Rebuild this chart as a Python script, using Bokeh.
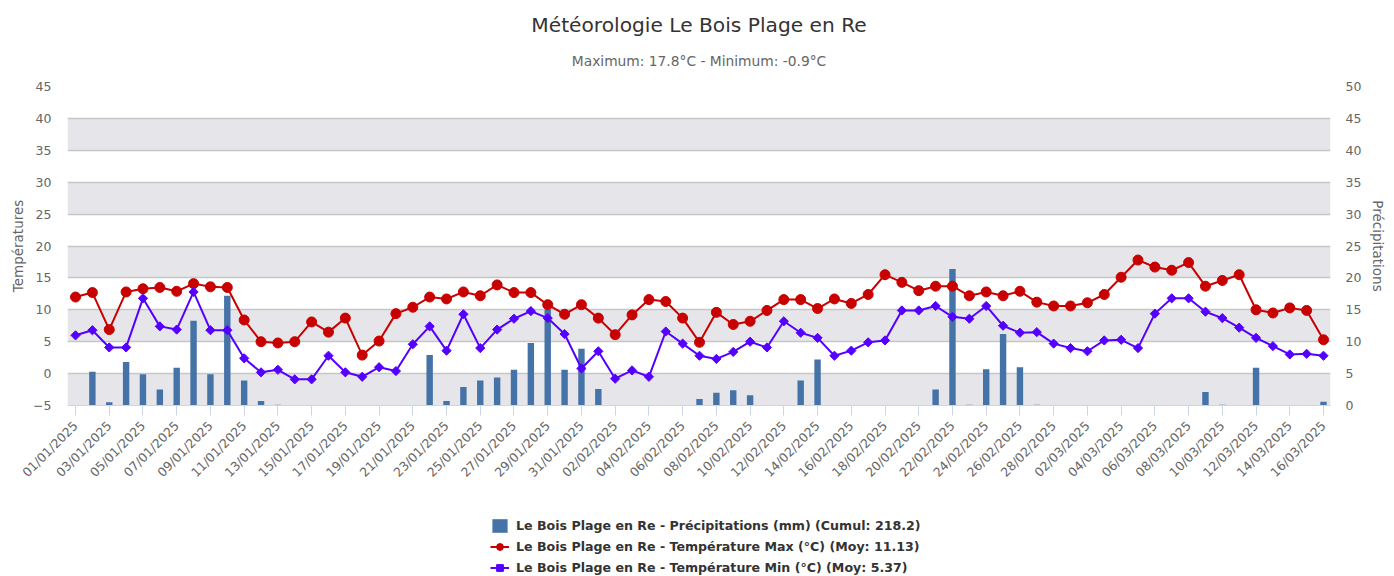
import math
import datetime
from bokeh.plotting import figure
from bokeh.layouts import column
from bokeh.models import (Range1d, LinearAxis, FixedTicker, BoxAnnotation, Legend,
                          LegendItem, Title, ColumnDataSource)
from bokeh.embed import file_html
from bokeh.resources import INLINE

# ---------------- data ----------------
START = datetime.date(2025, 1, 1)
N_DAYS = 75
dates = [(START + datetime.timedelta(days=i)).strftime("%d/%m/%Y") for i in range(N_DAYS)]

precip = [0, 5.3, 0.5, 6.8, 4.9, 2.5, 5.9, 13.3, 4.9, 17.2,
          3.9, 0.7, 0.1, 0, 0, 0, 0, 0, 0, 0,
          0, 7.9, 0.7, 2.9, 3.9, 4.4, 5.6, 9.8, 15.0, 5.6,
          8.9, 2.6, 0, 0, 0, 0, 0, 1.0, 2.0, 2.4,
          1.6, 0, 0, 3.9, 7.2, 0, 0, 0, 0, 0,
          0, 2.5, 21.4, 0.1, 5.7, 11.2, 6.0, 0.1, 0, 0,
          0, 0, 0, 0, 0, 0, 0, 2.1, 0.1, 0,
          5.9, 0, 0, 0, 0.6]

tmax = [12.0, 12.7, 6.9, 12.8, 13.3, 13.5, 12.9, 14.1, 13.6, 13.5,
        8.4, 5.0, 4.8, 5.0, 8.1, 6.5, 8.7, 2.9, 5.1, 9.4,
        10.4, 12.0, 11.7, 12.8, 12.2, 13.9, 12.7, 12.7, 10.8, 9.3,
        10.8, 8.7, 6.1, 9.2, 11.6, 11.3, 8.7, 4.9, 9.6, 7.7,
        8.2, 9.9, 11.6, 11.6, 10.2, 11.7, 11.0, 12.4, 15.5, 14.3,
        13.0, 13.7, 13.7, 12.2, 12.8, 12.2, 12.9, 11.2, 10.6, 10.6,
        11.1, 12.4, 15.1, 17.8, 16.7, 16.2, 17.4, 13.7, 14.6, 15.5,
        10.0, 9.5, 10.3, 9.9, 5.3]

tmin = [6.0, 6.8, 4.1, 4.1, 11.8, 7.4, 6.9, 12.8, 6.8, 6.8,
        2.4, 0.2, 0.6, -0.9, -0.9, 2.8, 0.2, -0.5, 1.0, 0.4,
        4.6, 7.4, 3.6, 9.3, 4.0, 6.9, 8.6, 9.8, 8.7, 6.2,
        0.8, 3.5, -0.8, 0.5, -0.5, 6.6, 4.7, 2.8, 2.3, 3.4,
        5.0, 4.1, 8.2, 6.4, 5.6, 2.8, 3.6, 4.9, 5.2, 9.9,
        9.9, 10.6, 8.9, 8.6, 10.6, 7.5, 6.4, 6.5, 4.7, 4.0,
        3.5, 5.2, 5.3, 4.0, 9.4, 11.8, 11.8, 9.7, 8.7, 7.2,
        5.6, 4.3, 3.0, 3.1, 2.8]

title_text = "Météorologie Le Bois Plage en Re"
subtitle_text = "Maximum: 17.8°C - Minimum: -0.9°C"
left_title = "Températures"
right_title = "Précipitations"
legend_labels = [
    "Le Bois Plage en Re - Précipitations (mm) (Cumul: 218.2)",
    "Le Bois Plage en Re - Température Max (°C) (Moy: 11.13)",
    "Le Bois Plage en Re - Température Min (°C) (Moy: 5.37)",
]
temp_ticks = list(range(-5, 50, 5))
precip_ticks = list(range(0, 55, 5))
band_starts = [-5, 5, 15, 25, 35]

# ---------------- style ----------------
FONT = "DejaVu Sans"
W = 1394
H1, H2 = 505, 71
ML, MR, MT, MB = 67, 64, 86, 100
BAR_COLOR, MAX_COLOR, MIN_COLOR = "#4572a7", "#c80000", "#5500ff"

idx = list(range(N_DAYS))
src = ColumnDataSource(dict(x=idx, date=dates, precip=precip, tmax=tmax, tmin=tmin))

p = figure(width=W, height=H1,
           x_range=Range1d(-0.475, N_DAYS - 1 + 0.415), y_range=Range1d(-5, 45),
           output_backend="svg", toolbar_location=None,
           min_border_left=ML, min_border_right=MR, min_border_top=MT, min_border_bottom=MB,
           outline_line_color=None, background_fill_color="white", border_fill_color="white")
p.title.visible = False
p.extra_y_ranges = {"precip": Range1d(0, 50)}

for lo in band_starts:
    p.add_layout(BoxAnnotation(bottom=lo, top=lo + 5, fill_color="#e6e6ea", fill_alpha=1.0,
                               line_color=None, level="image"))

p.xgrid.visible = False
p.ygrid.ticker = FixedTicker(ticks=temp_ticks)
p.ygrid.grid_line_color = "#c6c6c6"
p.ygrid.grid_line_width = 1.5

p.vbar(x="x", top="precip", bottom=0, width=0.38, source=src, y_range_name="precip",
       fill_color=BAR_COLOR, line_color=None)
p.line("x", "tmax", source=src, color=MAX_COLOR, line_width=2)
p.scatter("x", "tmax", source=src, marker="circle", size=10, color=MAX_COLOR)
p.line("x", "tmin", source=src, color=MIN_COLOR, line_width=2)
p.scatter("x", "tmin", source=src, marker="square", angle=math.pi / 4, size=6.5, color=MIN_COLOR)

# x axis
xa = p.xaxis[0]
xa.ticker = FixedTicker(ticks=idx[::2])
xa.major_label_overrides = {i: dates[i] for i in idx[::2]}
xa.major_label_orientation = math.pi / 4
xa.axis_line_color = "#ccd6eb"
xa.major_tick_line_color = "#ccd6eb"
xa.major_tick_out = 10
xa.major_tick_in = 0
xa.minor_tick_line_color = None
xa.major_label_text_font = FONT
xa.major_label_text_font_size = "12.5px"
xa.major_label_text_color = "#666666"
xa.major_label_standoff = 8

# left axis
ya = p.yaxis[0]
ya.ticker = FixedTicker(ticks=temp_ticks)
ya.major_label_overrides = {-5: "−5"}
ya.axis_line_color = None
ya.major_tick_line_color = None
ya.major_tick_out = 0
ya.major_tick_in = 0
ya.minor_tick_line_color = None
ya.minor_tick_out = 0
ya.major_label_text_font = FONT
ya.major_label_text_font_size = "12.5px"
ya.major_label_text_color = "#666666"
ya.major_label_standoff = 16
ya.axis_label = left_title
ya.axis_label_text_font = FONT
ya.axis_label_text_font_size = "13.5px"
ya.axis_label_text_font_style = "normal"
ya.axis_label_text_color = "#666666"
ya.axis_label_standoff = 4

ra = LinearAxis(y_range_name="precip", ticker=FixedTicker(ticks=precip_ticks),
                axis_line_color=None, major_tick_line_color=None, minor_tick_line_color=None,
                major_tick_out=0, major_tick_in=0, minor_tick_out=0,
                major_label_text_font=FONT, major_label_text_font_size="12.5px",
                major_label_text_color="#666666", major_label_standoff=15,
                axis_label=right_title, axis_label_text_font=FONT,
                axis_label_text_font_size="13.5px", axis_label_text_font_style="normal",
                axis_label_text_color="#666666", axis_label_standoff=6)
p.add_layout(ra, "right")

# titles (first added sits closest to the plot)
p.add_layout(Title(text=subtitle_text, align="center", vertical_align="top", text_font=FONT,
                   text_font_size="13.8px", text_font_style="normal", text_color="#666666",
                   standoff=32), "above")
p.add_layout(Title(text=title_text, align="center", vertical_align="bottom", text_font=FONT,
                   text_font_size="20.2px", text_font_style="normal", text_color="#333333",
                   standoff=0), "above")

# ---------------- legend strip ----------------
p2 = figure(width=W, height=H2, x_range=Range1d(0, W), y_range=Range1d(0, H2),
            output_backend="svg", toolbar_location=None, x_axis_type=None, y_axis_type=None,
            min_border=0, outline_line_color=None, background_fill_color="white",
            border_fill_color="white")
p2.title.visible = False
p2.grid.visible = False
# proxy glyphs (off-range) so the legend can draw its symbols
proxy = ColumnDataSource(dict(x=[-1000], y=[-1000]))
g_bar = p2.vbar(x="x", top="y", width=1, source=proxy, fill_color=BAR_COLOR, line_color=None)
g_lmax = p2.line("x", "y", source=proxy, color=MAX_COLOR, line_width=2)
g_smax = p2.scatter("x", "y", source=proxy, marker="circle", size=10, color=MAX_COLOR)
g_lmin = p2.line("x", "y", source=proxy, color=MIN_COLOR, line_width=2)
g_smin = p2.scatter("x", "y", source=proxy, marker="square", angle=math.pi / 4, size=6.5,
                    color=MIN_COLOR)

legend = Legend(items=[LegendItem(label=legend_labels[0], renderers=[g_bar]),
                       LegendItem(label=legend_labels[1], renderers=[g_lmax, g_smax]),
                       LegendItem(label=legend_labels[2], renderers=[g_lmin, g_smin])],
                location=(490 - ML, 0), orientation="vertical",
                glyph_width=19, glyph_height=17, label_height=17, spacing=4,
                padding=0, margin=0, label_standoff=7,
                border_line_color=None, background_fill_alpha=0,
                label_text_font=FONT, label_text_font_style="bold",
                label_text_font_size="12.6px", label_text_color="#333333")
p2.add_layout(legend, "center")

layout = column(p, p2, spacing=0)
open("out.html", "w").write(file_html(layout, INLINE))
